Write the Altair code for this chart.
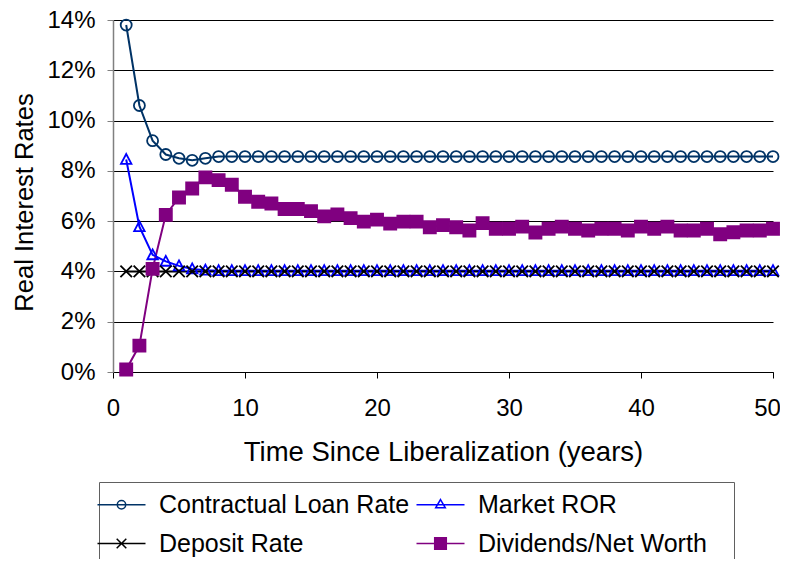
import altair as alt
import pandas as pd

years = list(range(1, 51))
series_names = ["Contractual Loan Rate", "Market ROR", "Deposit Rate", "Dividends/Net Worth"]

loan_rate = [13.8, 10.6, 9.2, 8.65, 8.5, 8.42, 8.5, 8.57, 8.57, 8.57,
             8.57, 8.57, 8.57, 8.57, 8.57, 8.57, 8.57, 8.57, 8.57, 8.57,
             8.57, 8.57, 8.57, 8.57, 8.57, 8.57, 8.57, 8.57, 8.57, 8.57,
             8.57, 8.57, 8.57, 8.57, 8.57, 8.57, 8.57, 8.57, 8.57, 8.57,
             8.57, 8.57, 8.57, 8.57, 8.57, 8.57, 8.57, 8.57, 8.57, 8.57]
market_ror = [8.45, 5.78, 4.66, 4.4, 4.22, 4.1, 4.05, 4.03, 4.03, 4.03,
              4.03, 4.03, 4.03, 4.03, 4.03, 4.03, 4.03, 4.03, 4.03, 4.03,
              4.03, 4.03, 4.03, 4.03, 4.03, 4.03, 4.03, 4.03, 4.03, 4.03,
              4.03, 4.03, 4.03, 4.03, 4.03, 4.03, 4.03, 4.03, 4.03, 4.03,
              4.03, 4.03, 4.03, 4.03, 4.03, 4.03, 4.03, 4.03, 4.03, 4.03]
deposit_rate = [4.0, 4.0, 4.0, 4.0, 4.0, 4.0, 4.0, 4.0, 4.0, 4.0,
                4.0, 4.0, 4.0, 4.0, 4.0, 4.0, 4.0, 4.0, 4.0, 4.0,
                4.0, 4.0, 4.0, 4.0, 4.0, 4.0, 4.0, 4.0, 4.0, 4.0,
                4.0, 4.0, 4.0, 4.0, 4.0, 4.0, 4.0, 4.0, 4.0, 4.0,
                4.0, 4.0, 4.0, 4.0, 4.0, 4.0, 4.0, 4.0, 4.0, 4.0]
dividends = [0.1, 1.05, 4.1, 6.25, 6.94, 7.3, 7.74, 7.63, 7.45, 6.97,
             6.77, 6.7, 6.48, 6.48, 6.4, 6.19, 6.27, 6.12, 5.98, 6.06,
             5.9, 5.98, 5.98, 5.76, 5.84, 5.76, 5.63, 5.92, 5.7, 5.7,
             5.78, 5.55, 5.7, 5.78, 5.7, 5.63, 5.7, 5.7, 5.63, 5.78,
             5.7, 5.78, 5.63, 5.63, 5.7, 5.48, 5.56, 5.63, 5.63, 5.7]

y_ticks = [0, 0.02, 0.04, 0.06, 0.08, 0.10, 0.12, 0.14]
x_ticks = [0, 10, 20, 30, 40, 50]

series_colors = ["#003366", "#0000FF", "#000000", "#800080"]
fill_colors = ["transparent", "transparent", "transparent", "#800080"]

# marker glyphs (unit box -1..1)
plot_shapes = [
    "M1,0A1,1 0 1,1 -1,0A1,1 0 1,1 1,0Z",
    "M0,-1.0L0.95,0.8L-0.95,0.8Z",
    "M-1.05,-1.05L1.05,1.05M-1.05,1.05L1.05,-1.05",
    "M-1.1,-1.1H1.1V1.1H-1.1Z",
]
# legend glyphs: line through marker (last one also widens the legend frame a bit)
legend_shapes = [
    "M-6,0H6M1.05,0A1.05,1.05 0 1,1 -1.05,0A1.05,1.05 0 1,1 1.05,0Z",
    "M-6,0H6M0,-1.3L1.2,0.75L-1.2,0.75Z",
    "M-6,0H6M-1.2,-1.2L1.2,1.2M-1.2,1.2L1.2,-1.2",
    "M-6,0H6M-1.45,-1.45H1.45V1.45H-1.45ZM70,0",
]

rows = []
for name, vals in zip(series_names, [loan_rate, market_ror, deposit_rate, dividends]):
    for t, v in zip(years, vals):
        rows.append({"t": t, "rate": v / 100.0, "series": name})
df = pd.DataFrame(rows)

FONT = "Liberation Sans"

x_enc = alt.X(
    "t:Q",
    scale=alt.Scale(domain=[0, 50], nice=False, zero=False),
    axis=alt.Axis(
        values=x_ticks, grid=False, labelFontSize=24, labelFont=FONT, labelColor="black",
        domainColor="black", domainWidth=1, tickColor="black", tickSize=6, tickWidth=1,
        labelPadding=18, labelFlush=False,
        labelOffset={"condition": {"test": "datum.value == 50", "value": -6}, "value": 0},
        title="Time Since Liberalization (years)", titleFontSize=27.5, titleFont=FONT,
        titleFontWeight="normal", titleColor="black", titleY=88, titleBaseline="alphabetic",
    ),
)
y_enc = alt.Y(
    "rate:Q",
    scale=alt.Scale(domain=[0, 0.14], nice=False),
    axis=alt.Axis(
        values=y_ticks, format=".0%", grid=True, gridColor="black", gridWidth=1, gridOpacity=1,
        labelFontSize=24, labelFont=FONT, labelColor="black", domainColor="#808080", domainWidth=1.5,
        tickColor="#808080", tickSize=6, tickWidth=1, labelPadding=12,
        title="Real Interest Rates", titleFontSize=25.5, titleFont=FONT, titleFontWeight="normal",
        titleColor="black", titleX=-81, titleY=182, titleBaseline="alphabetic", titleAlign="center",
    ),
)

base = alt.Chart(df)

lines = base.mark_line(strokeWidth=2).encode(
    x=x_enc,
    y=y_enc,
    color=alt.Color("series:N", scale=alt.Scale(domain=series_names, range=series_colors), legend=None),
    order="t:Q",
)

points = base.mark_point(size=121, strokeWidth=1.8, opacity=1).encode(
    x=x_enc,
    y=y_enc,
    shape=alt.Shape("series:N", scale=alt.Scale(domain=series_names, range=plot_shapes), legend=None),
    stroke=alt.Stroke("series:N", scale=alt.Scale(domain=series_names, range=series_colors), legend=None),
    fill=alt.Fill("series:N", scale=alt.Scale(domain=series_names, range=fill_colors), legend=None),
)

leg = alt.Legend(
    title=None, orient="none", legendX=-14, legendY=462, columns=2, direction="horizontal",
    columnPadding=3, rowPadding=13, labelFontSize=25, labelFont=FONT, labelColor="black",
    labelLimit=500, labelOffset=25, symbolSize=64, symbolStrokeWidth=1.5,
    strokeColor="#606060", padding=10,
)

legend_layer = base.transform_filter("datum.t < 0").mark_point(size=64, strokeWidth=1.5, opacity=1).encode(
    x=x_enc,
    y=y_enc,
    shape=alt.Shape("series:N", scale=alt.Scale(domain=series_names, range=legend_shapes), legend=leg),
    stroke=alt.Stroke("series:N", scale=alt.Scale(domain=series_names, range=series_colors), legend=leg),
    fill=alt.Fill("series:N", scale=alt.Scale(domain=series_names, range=fill_colors), legend=leg),
)

chart = alt.layer(lines, points, legend_layer).resolve_scale(
    shape="independent", stroke="independent", fill="independent"
).properties(
    width=660,
    height=352,
    autosize=alt.AutoSizeParams(type="none"),
    padding={"left": 105, "top": 12, "right": 7, "bottom": 187},
    background="white",
).configure_view(stroke=None)

chart.save("out.html", embed_options={"renderer": "svg", "actions": False})
